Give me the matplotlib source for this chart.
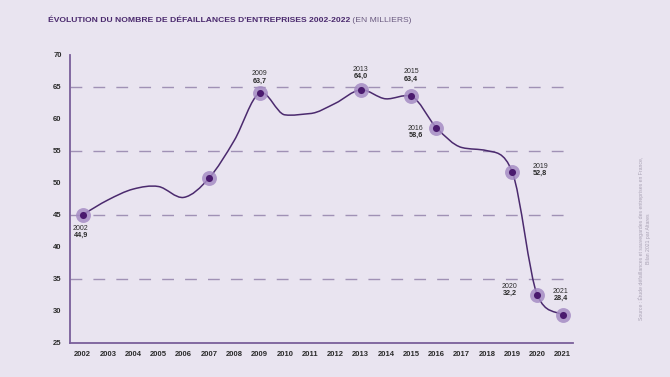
import numpy as np
import matplotlib.pyplot as plt
from matplotlib.path import Path
from matplotlib.patches import PathPatch

# Données (en milliers)
annees = list(range(2002, 2022))
valeurs = [45.0, 47.3, 49.0, 49.4, 47.7, 50.7, 56.6, 64.0, 60.6, 60.8,
           62.4, 64.5, 63.1, 63.5, 58.6, 55.5, 55.0, 51.7, 32.4, 29.3]

annees_points = [2002, 2007, 2009, 2013, 2015, 2016, 2019, 2020, 2021]
annees_labels = [2002, 2009, 2013, 2015, 2016, 2019, 2020, 2021]
textes_labels = ['44,9', '63,7', '64,0', '63,4', '58,6', '52,8', '32,2', '28,4']

fond = '#e9e4f0'
violet = '#4b2a6e'
violet_clair = '#a58cc4'
gris = '#2b2b2b'

plt.rcParams['font.family'] = ['Liberation Sans', 'DejaVu Sans']

fig = plt.figure(figsize=(6.7, 3.77), dpi=100, facecolor=fond)
ax = fig.add_axes([0.1045, 0.091, 0.7505, 0.764], facecolor=fond)

# courbe lissée : tangentes Catmull-Rom, bornées pour éviter les dépassements
x = np.array(annees, dtype=float)
y = np.array(valeurs)
pentes = np.diff(y) / np.diff(x)
tang = np.zeros_like(y)
tang[0], tang[-1] = pentes[0], pentes[-1]
tang[1:-1] = (y[2:] - y[:-2]) / (x[2:] - x[:-2])
for i in range(len(pentes)):
    if pentes[i] == 0:
        continue
    a, b = tang[i] / pentes[i], tang[i + 1] / pentes[i]
    r = a * a + b * b
    if r > 9:
        t = 3 / np.sqrt(r)
        tang[i], tang[i + 1] = t * a * pentes[i], t * b * pentes[i]
verts = [(x[0], y[0])]
codes = [Path.MOVETO]
for i in range(len(x) - 1):
    h = x[i + 1] - x[i]
    verts += [(x[i] + h / 3, y[i] + tang[i] * h / 3),
              (x[i + 1] - h / 3, y[i + 1] - tang[i + 1] * h / 3),
              (x[i + 1], y[i + 1])]
    codes += [Path.CURVE4] * 3
ax.add_patch(PathPatch(Path(verts, codes), fill=False, edgecolor=violet, lw=1.1, zorder=3))

# lignes pointillées
for g in [35, 45, 55, 65]:
    ax.axhline(g, color='#a091b5', lw=1.0, dashes=(8.5, 8), zorder=1)

# points
pts_y = [valeurs[annees.index(a)] for a in annees_points]
ax.scatter(annees_points, pts_y, s=115, color=violet_clair, alpha=0.85, zorder=4, lw=0)
ax.scatter(annees_points, pts_y, s=26, color='#4a1a6e', zorder=5, lw=0)

# étiquettes (décalage x, décalage y)
decalages = {
    2002: (-0.07, -3.36),
    2009: (0.0, 1.75),
    2013: (0.0, 1.9),
    2015: (0.0, 2.55),
    2016: (-0.82, -1.33),
    2019: (1.1, -0.4),
    2020: (-1.1, 0.13),
    2021: (-0.07, 2.4),
}
for a, t in zip(annees_labels, textes_labels):
    dx, dy = decalages[a]
    v = valeurs[annees.index(a)]
    ax.text(a + dx, v + dy + 0.7, str(a), fontsize=5, color=gris, ha='center', va='bottom', zorder=6)
    ax.text(a + dx, v + dy + 0.7, t, fontsize=5.2, color=gris, ha='center', va='top',
            fontweight='bold', zorder=6)

ax.set_xlim(2001.5, 2021.4)
ax.set_ylim(25, 70)
ax.set_xticks(annees)
ax.set_yticks(range(25, 71, 5))
ax.tick_params(length=0, labelsize=5.5, colors=gris, pad=6)
for lab in ax.get_xticklabels() + ax.get_yticklabels():
    lab.set_fontweight('bold')
for s in ['top', 'right']:
    ax.spines[s].set_visible(False)
for s in ['left', 'bottom']:
    ax.spines[s].set_color('#7a5f9a')
    ax.spines[s].set_linewidth(1.3)

titre = fig.text(0.072, 0.945, "ÉVOLUTION DU NOMBRE DE DÉFAILLANCES D'ENTREPRISES 2002-2022",
                 fontsize=6.1, fontweight='bold', color='#4b2a6e', va='center')
ax.annotate(" (EN MILLIERS)", xy=(1, 0.5), xycoords=titre, fontsize=6.1,
            color='#6a5a80', va='center', ha='left', annotation_clip=False)

fig.text(0.962, 0.15, "Source : Étude défaillances et sauvegardes des entreprises en France,\nBilan 2021 par Altares",
         fontsize=3.7, color='#a9a2b4', rotation=90, va='bottom', ha='center', linespacing=1.4)

fig.savefig('out.png', dpi=100, facecolor=fond)
